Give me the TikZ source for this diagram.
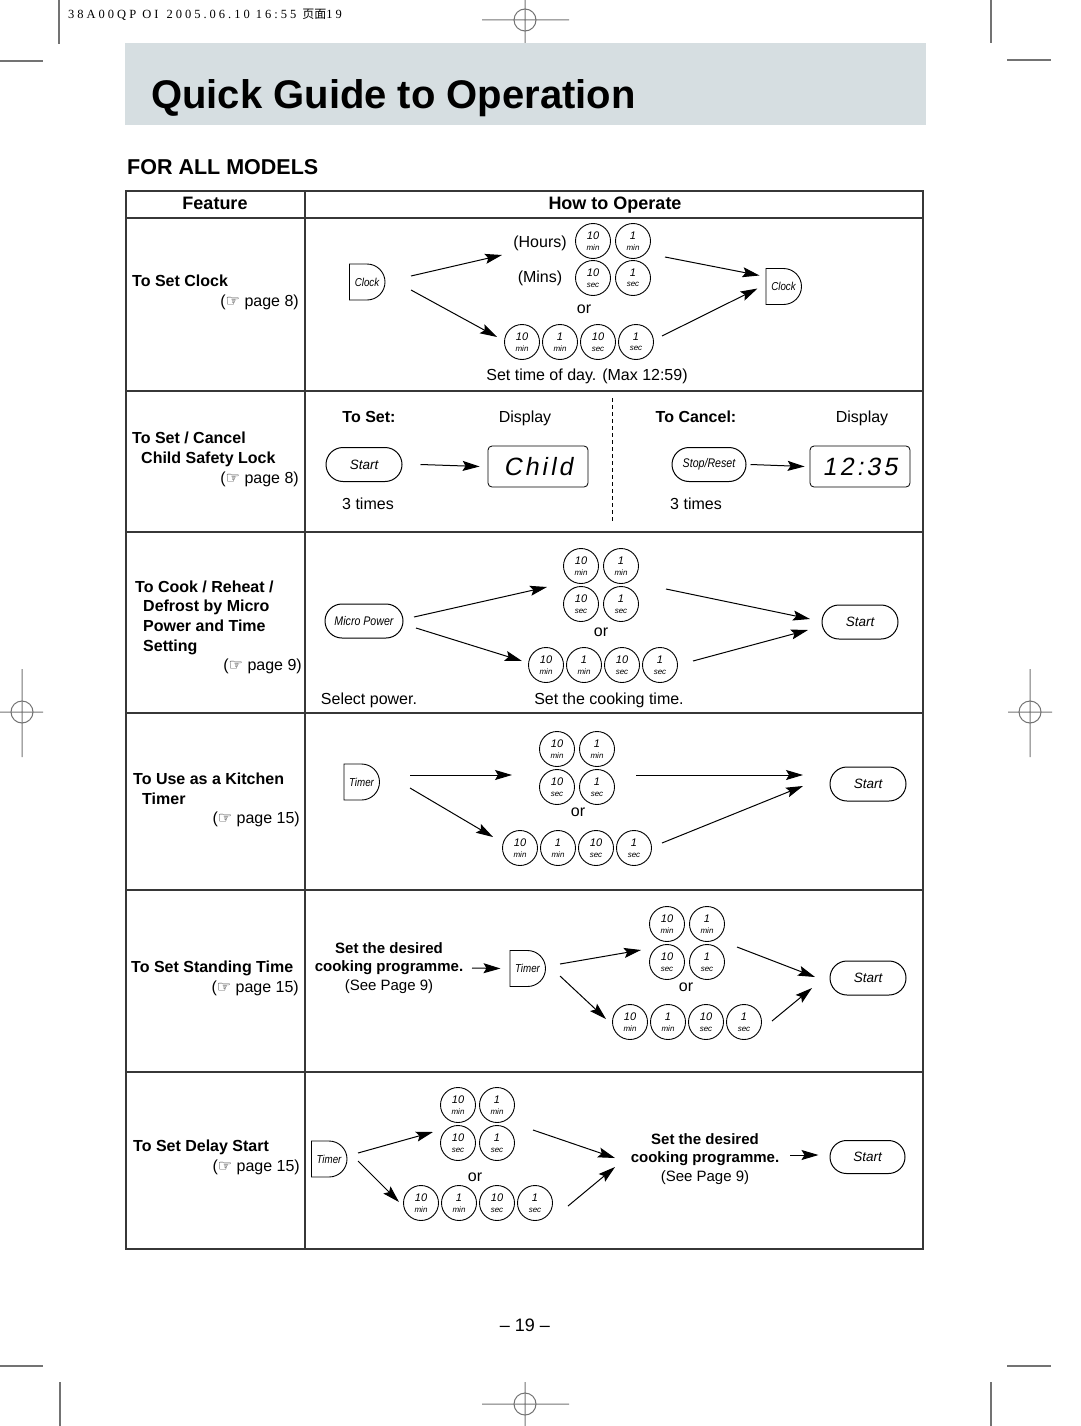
\documentclass[tikz,border=0pt]{standalone}
\usepackage{fontspec}
\setmainfont{Liberation Sans}
\newfontfamily\condit[FakeStretch=0.85]{Liberation Sans}
\newfontfamily\lcdfont[FakeSlant=0.18,LetterSpace=12]{Liberation Sans}
\newfontfamily\hdrfont[LetterSpace=24]{Liberation Serif}
\newfontfamily\cjk{Noto Sans CJK SC}
\newfontfamily\symfont{DejaVu Sans}
\usetikzlibrary{arrows.meta,shapes.misc}
\definecolor{band}{RGB}{214,222,225}
\definecolor{cropgray}{RGB}{115,115,115}
\definecolor{tblgray}{RGB}{55,55,55}
\newcommand{\kk}[2]{{\fontsize{11}{11}\selectfont #1}\\[-1.5pt]{\fontsize{8}{8}\selectfont #2}}
\newcommand{\numkey}[4]{\node[key] (#1) at (#2) {\kk{#3}{#4}};}
\newcommand{\pg}[1]{({\symfont\fontsize{16}{16}\selectfont ☞} page #1)}
\begin{document}
\begin{tikzpicture}[x=1pt,y=-1pt,
  crop/.style={draw=cropgray,line width=1.2pt},
  tbl/.style={draw=tblgray,line width=1.3pt},
  key/.style={circle,draw,line width=0.9pt,minimum size=35pt,inner sep=0pt,align=center,font=\itshape},
  dkey/.style={rounded rectangle,rounded rectangle left arc=none,draw,line width=0.9pt,minimum width=34pt,minimum height=36pt,inner sep=0pt,font=\condit\itshape\fontsize{11.5}{12}\selectfont},
  pill/.style={rounded rectangle,draw,line width=1pt,minimum width=76pt,minimum height=34pt,inner sep=0pt,font=\itshape\fontsize{13.5}{15}\selectfont},
  cpill/.style={pill,font=\condit\itshape\fontsize{12.5}{14}\selectfont},
  lcd/.style={draw,line width=0.8pt,rounded corners=4pt,minimum width=100pt,minimum height=41pt,inner sep=0pt,font=\lcdfont\fontsize{25}{28}\selectfont},
  arr/.style={-{Stealth[length=17pt,width=10pt,inset=3pt]},line width=1pt},
  txt/.style={inner sep=0pt,text height=11.5pt,text depth=3.5pt,font=\fontsize{16}{19}\selectfont},
  btxt/.style={txt,font=\bfseries\fontsize{16}{19}\selectfont},
  htxt/.style={txt,font=\bfseries\fontsize{18}{21}\selectfont},
  prog/.style={inner sep=0pt,align=center,font=\fontsize{15}{18.5}\selectfont},
]
\useasboundingbox (0,0) rectangle (1080,1426);

% ---------- crop and registration marks ----------
\draw[crop] (59,0) -- (59,44);
\draw[crop] (0,61) -- (43,61);
\draw[crop] (991,0) -- (991,43);
\draw[crop] (1007,60) -- (1051,60);
\draw[crop] (0,1366) -- (43,1366);
\draw[crop] (60,1382) -- (60,1426);
\draw[crop] (1007,1366) -- (1051,1366);
\draw[crop] (991,1382) -- (991,1426);
\draw[crop,line width=1pt] (482,20) -- (569,20) (525,0) -- (525,43) (525,20) circle[radius=11];
\draw[crop,line width=1pt] (0,712) -- (43,712) (22,669) -- (22,757) (22,712) circle[radius=11];
\draw[crop,line width=1pt] (1008,712) -- (1052,712) (1030,669) -- (1030,757) (1030,712) circle[radius=11];
\draw[crop,line width=1pt] (482,1404) -- (569,1404) (525,1382) -- (525,1426) (525,1404) circle[radius=11];

\node[anchor=base west,inner sep=0pt,font=\hdrfont\fontsize{12.5}{14}\selectfont] (hdr) at (68,19)
  {38A00QP OI\hspace{8pt}2005.06.10 16:55 {\cjk\fontsize{12}{14}\selectfont 页面}19};

% ---------- title band ----------
\fill[band] (125,43) rectangle (926,125);
\node[anchor=base west,inner sep=0pt,font=\bfseries\fontsize{40}{44}\selectfont] (title) at (151,109) {Quick Guide to Operation};
\node[anchor=base west,inner sep=0pt,font=\bfseries\fontsize{21.5}{24}\selectfont] (models) at (127,174) {FOR ALL MODELS};

% ---------- table ----------
\draw[tbl] (126,191) rectangle (923,1249);
\draw[tbl] (305,191) -- (305,1249);
\foreach \yy in {218,391,532,713,890,1072} \draw[tbl] (126,\yy) -- (923,\yy);
\node[htxt] (hfeat) at (215,205) {Feature};
\node[htxt] (hhow) at (615,205) {How to Operate};

% ---------- row 1: clock ----------
\node[btxt,anchor=west] (f1) at (132,282) {To Set Clock};
\node[txt,anchor=east] (p1) at (299,302) {\pg{8}};
\node[dkey] (clk1) at (367,282) {Clock};
\node[txt] (hrs) at (540,243) {(Hours)};
\node[txt] (mins) at (540,278) {(Mins)};
\numkey{b1a}{593,241}{10}{min}
\numkey{b1b}{633,241}{1}{min}
\numkey{b1c}{593,278}{10}{sec}
\numkey{b1d}{633,278}{1}{sec}
\node[txt] (or1) at (584,309) {or};
\numkey{b1e}{522,342}{10}{min}
\numkey{b1f}{560,342}{1}{min}
\numkey{b1g}{598,342}{10}{sec}
\numkey{b1h}{636,342}{1}{sec}
\node[txt] (cap1) at (587,376) {Set time of day. (Max 12:59)};
\node[dkey] (clk2) at (783.5,286.5) {Clock};
\draw[arr] ([shift={(44,-6)}]clk1.center) -- ([shift={(-38,12)}]hrs.center);
\draw[arr] ([shift={(44,8)}]clk1.center) -- ([shift={(-25,-5)}]b1e.center);
\draw[arr] ([shift={(32,16)}]b1b.center) -- ([shift={(-24,-11)}]clk2.center);
\draw[arr] ([shift={(26,-6)}]b1h.center) -- ([shift={(-26,2)}]clk2.center);

% ---------- row 2: child lock ----------
\node[btxt,anchor=west] (f2a) at (132,439) {To Set / Cancel};
\node[btxt,anchor=west] (f2b) at (141,459) {Child Safety Lock};
\node[txt,anchor=east] (p2) at (299,479) {\pg{8}};
\node[btxt] (toset) at (369,418) {To Set:};
\node[txt] (disp1) at (525,418) {Display};
\node[pill] (start1) at (364,464.5) {Start};
\node[lcd] (lcd1) at (538,466.5) {Child};
\node[txt] (times1) at (368,505) {3 times};
\coordinate (dtop) at (612,398);
\coordinate (dbot) at (612,522);
\draw[line width=0.9pt,dash pattern=on 4pt off 3pt] (dtop) -- (dbot);
\node[btxt] (tocancel) at (696,418) {To Cancel:};
\node[txt] (disp2) at (862,418) {Display};
\node[cpill,minimum width=74pt] (stop) at (709,464.5) {Stop/Reset};
\node[lcd] (lcd2) at (860,466.5) {12:35};
\node[txt] (times2) at (696,505) {3 times};
\draw[arr] ([xshift=18pt]start1.east) -- ([xshift=-8pt]lcd1.west);
\draw[arr] ([xshift=4pt]stop.east) -- ([xshift=-5pt]lcd2.west);

% ---------- row 3: cook ----------
\node[btxt,anchor=west] (f3a) at (135,588) {To Cook / Reheat /};
\node[btxt,anchor=west] (f3b) at (143,607) {Defrost by Micro};
\node[btxt,anchor=west] (f3c) at (143,627) {Power and Time};
\node[btxt,anchor=west] (f3d) at (143,647) {Setting};
\node[txt,anchor=east] (p3) at (302,666) {\pg{9}};
\node[cpill,minimum width=78pt] (mp) at (364,621) {Micro Power};
\numkey{b3a}{581,566}{10}{min}
\numkey{b3b}{621,566}{1}{min}
\numkey{b3c}{581,604}{10}{sec}
\numkey{b3d}{621,604}{1}{sec}
\node[txt] (or3) at (601,632) {or};
\numkey{b3e}{546,665}{10}{min}
\numkey{b3f}{584,665}{1}{min}
\numkey{b3g}{622,665}{10}{sec}
\numkey{b3h}{660,665}{1}{sec}
\node[pill] (start3) at (860,622) {Start};
\node[txt] (sel) at (369,700) {Select power.};
\node[txt] (cook) at (609,700) {Set the cooking time.};
\draw[arr] ([shift={(50,-4)}]mp.center) -- ([shift={(-34,-17)}]b3c.center);
\draw[arr] ([shift={(52,7)}]mp.center) -- ([shift={(-24,-4)}]b3e.center);
\draw[arr] ([shift={(45,-15)}]b3d.center) -- ([shift={(-50,-3)}]start3.center);
\draw[arr] ([shift={(33,-4)}]b3h.center) -- ([shift={(-52,8)}]start3.center);

% ---------- row 4: kitchen timer ----------
\node[btxt,anchor=west] (f4a) at (133,780) {To Use as a Kitchen};
\node[btxt,anchor=west] (f4b) at (142,800) {Timer};
\node[txt,anchor=east] (p4) at (300,819) {\pg{15}};
\node[dkey] (tm1) at (361.5,782) {Timer};
\numkey{b4a}{557,749}{10}{min}
\numkey{b4b}{597,749}{1}{min}
\numkey{b4c}{557,787}{10}{sec}
\numkey{b4d}{597,787}{1}{sec}
\node[txt] (or4) at (578,812) {or};
\numkey{b4e}{520,848}{10}{min}
\numkey{b4f}{558,848}{1}{min}
\numkey{b4g}{596,848}{10}{sec}
\numkey{b4h}{634,848}{1}{sec}
\node[pill] (start4) at (868,784) {Start};
\draw[arr] ([shift={(48.5,-7)}]tm1.center) -- ([shift={(-45,-12)}]b4c.center);
\draw[arr] ([shift={(48.5,6)}]tm1.center) -- ([shift={(-27,-11)}]b4e.center);
\draw[arr] ([shift={(39,-12)}]b4d.center) -- ([shift={(-65,-9)}]start4.center);
\draw[arr] ([shift={(28,-5)}]b4h.center) -- ([shift={(-65,2)}]start4.center);

% ---------- row 5: standing time ----------
\node[btxt,anchor=west] (f5) at (131,968) {To Set Standing Time};
\node[txt,anchor=east] (p5) at (299,988) {\pg{15}};
\node[prog] (prog1) at (389,968) {\textbf{Set the desired}\\\textbf{cooking programme.}\\(See Page 9)};
\node[dkey] (tm2) at (527.5,968.5) {Timer};
\numkey{b5a}{667,924}{10}{min}
\numkey{b5b}{707,924}{1}{min}
\numkey{b5c}{667,962}{10}{sec}
\numkey{b5d}{707,962}{1}{sec}
\node[txt] (or5) at (686,987) {or};
\numkey{b5e}{630,1022}{10}{min}
\numkey{b5f}{668,1022}{1}{min}
\numkey{b5g}{706,1022}{10}{sec}
\numkey{b5h}{744,1022}{1}{sec}
\node[pill] (start5) at (868,978) {Start};
\draw[arr] ([shift={(83,0)}]prog1.center) -- ([shift={(-27,0)}]tm2.center);
\draw[arr] ([shift={(32.5,-4.5)}]tm2.center) -- ([shift={(-26,-12)}]b5c.center);
\draw[arr] ([shift={(32.5,7.5)}]tm2.center) -- ([shift={(-24,-3)}]b5e.center);
\draw[arr] ([shift={(30,-15)}]b5d.center) -- ([shift={(-53,-1)}]start5.center);
\draw[arr] ([shift={(28,-1)}]b5h.center) -- ([shift={(-56,10)}]start5.center);

% ---------- row 6: delay start ----------
\node[btxt,anchor=west] (f6) at (133,1147) {To Set Delay Start};
\node[txt,anchor=east] (p6) at (300,1167) {\pg{15}};
\node[dkey] (tm3) at (329,1159) {Timer};
\numkey{b6a}{458,1105}{10}{min}
\numkey{b6b}{497,1105}{1}{min}
\numkey{b6c}{458,1143}{10}{sec}
\numkey{b6d}{497,1143}{1}{sec}
\node[txt] (or6) at (475,1177) {or};
\numkey{b6e}{421,1203}{10}{min}
\numkey{b6f}{459,1203}{1}{min}
\numkey{b6g}{497,1203}{10}{sec}
\numkey{b6h}{535,1203}{1}{sec}
\node[prog] (prog2) at (705,1159) {\textbf{Set the desired}\\\textbf{cooking programme.}\\(See Page 9)};
\node[pill,minimum width=75pt,minimum height=33pt] (start6) at (867.5,1157) {Start};
\draw[arr] ([shift={(29,-6)}]tm3.center) -- ([shift={(-25,-11)}]b6c.center);
\draw[arr] ([shift={(29,2)}]tm3.center) -- ([shift={(-22,-1)}]b6e.center);
\draw[arr] ([shift={(36,-13)}]b6d.center) -- ([shift={(-90,-1)}]prog2.center);
\draw[arr] ([shift={(33,3)}]b6h.center) -- ([shift={(-90,8)}]prog2.center);
\draw[arr] ([shift={(85,-4)}]prog2.center) -- ([shift={(-49,-2)}]start6.center);

% ---------- page number ----------
\node[txt,font=\fontsize{18}{21}\selectfont] (pnum) at (525,1327) {-- 19 --};
\end{tikzpicture}
\end{document}
